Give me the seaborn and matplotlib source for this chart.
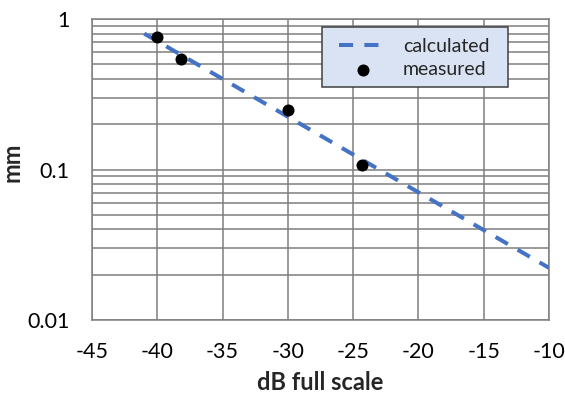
import matplotlib
matplotlib.use("Agg")
import matplotlib.pyplot as plt
import seaborn as sns
import pandas as pd
from matplotlib.patches import Rectangle
from matplotlib.ticker import LogLocator, FixedLocator, NullFormatter, FixedFormatter

# data
calc_db = [-41.0, -10.0]
calc_mm = [0.80, 0.0222]
meas_db = [-40.0, -38.2, -30.0, -24.3]
meas_mm = [0.76, 0.54, 0.247, 0.107]
x_ticks = [-45, -40, -35, -30, -25, -20, -15, -10]
y_ticks = [0.01, 0.1, 1]
y_tick_labels = ["0.01", "0.1", "1"]

sns.set_theme(style="white")
plt.rcParams['font.family'] = ['Lato', 'DejaVu Sans']
plt.rcParams['axes.unicode_minus'] = False

W, H = 565, 394
L, R, T, B = 92, 549, 19, 320
fig = plt.figure(figsize=(W / 100, H / 100), dpi=100)
ax = fig.add_axes([L / W, 1 - B / H, (R - L) / W, (B - T) / H])

def ax_x(px):
    return (px - L) / (R - L)

def ax_y(py):
    return (B - py) / (B - T)

grid_c = "#7f7f7f"
calc_df = pd.DataFrame({"x": calc_db, "y": calc_mm})
meas_df = pd.DataFrame({"x": meas_db, "y": meas_mm})

sns.lineplot(data=calc_df, x="x", y="y", ax=ax, color="#4472C4", lw=2.9,
             linestyle=(0, (3.5, 2.8)), label="calculated", zorder=3)
sns.scatterplot(data=meas_df, x="x", y="y", ax=ax, color="black", s=75,
                edgecolor="black", linewidth=0, label="measured", zorder=4)

ax.set_yscale("log")
ax.set_xlim(-45, -10)
ax.set_ylim(0.01, 1)
ax.xaxis.set_major_locator(FixedLocator(x_ticks))
ax.yaxis.set_major_locator(FixedLocator(y_ticks))
ax.yaxis.set_major_formatter(FixedFormatter(y_tick_labels))
ax.yaxis.set_minor_locator(LogLocator(base=10, subs=range(2, 10)))
ax.yaxis.set_minor_formatter(NullFormatter())
ax.grid(True, which="major", axis="both", color=grid_c, lw=1.1)
ax.grid(True, which="minor", axis="y", color=grid_c, lw=1.1)
ax.set_axisbelow(True)
for s in ax.spines.values():
    s.set_color(grid_c)
    s.set_linewidth(1.1)
ax.tick_params(axis="both", which="both", length=0, labelsize=15.5, colors="black")
ax.tick_params(axis="x", pad=16)
ax.tick_params(axis="y", pad=16)

ax.set_xlabel("dB full scale", fontsize=17, fontweight="bold", labelpad=6)
ax.set_ylabel("mm", fontsize=17, fontweight="bold")
ax.yaxis.set_label_coords(-0.149, 0.525)

# legend box
box = Rectangle((ax_x(322), ax_y(87)), ax_x(508) - ax_x(322), ax_y(27) - ax_y(87),
                transform=ax.transAxes, facecolor="#dae3f3", edgecolor="#404040",
                linewidth=1.1, zorder=5)
ax.add_patch(box)
leg = ax.legend(loc="upper left", bbox_to_anchor=(ax_x(339), ax_y(38)),
                borderaxespad=0, borderpad=0, frameon=False, fontsize=14,
                handlelength=2.47, handletextpad=0.82, labelspacing=0.3)
leg.set_zorder(6)

fig.savefig("out.png", dpi=100)
